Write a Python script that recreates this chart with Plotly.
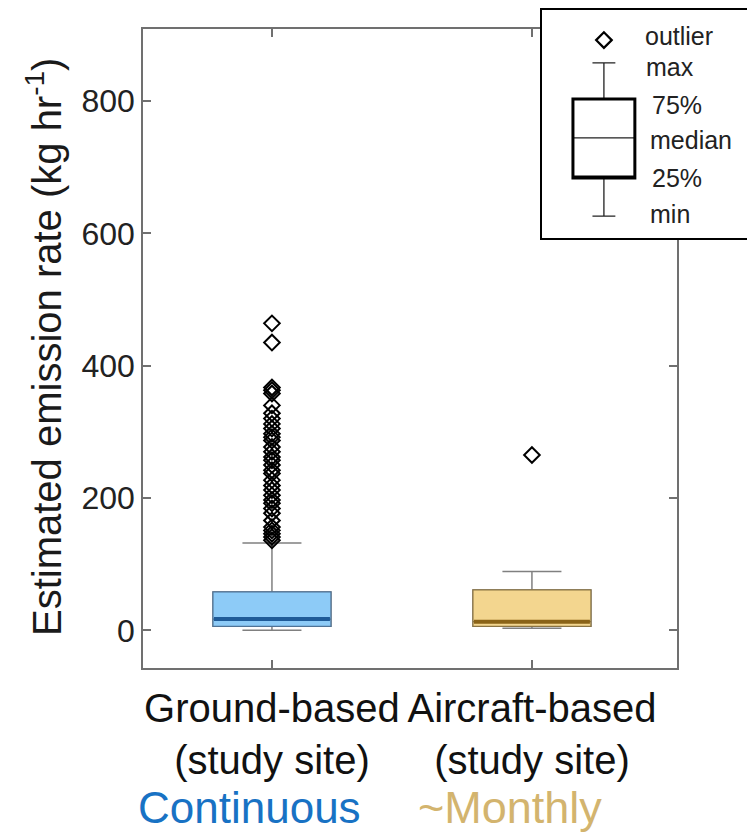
import plotly.graph_objects as go

# ---------------- data ----------------
categories = ["Ground-based<br>(study site)", "Aircraft-based<br>(study site)"]
positions = [1, 2]

q1_vals = [6, 6]
median_vals = [17, 13]
q3_vals = [58, 61]
lower_vals = [0, 3]
upper_vals = [132, 89]

ground_outliers = [464, 435, 367, 363, 358, 340, 328, 320, 312, 305, 297, 292, 287,
                   277, 270, 262, 257, 250, 242, 237, 227, 219, 212, 204, 197, 192,
                   184, 177, 166, 156, 151, 146, 141, 136]
aircraft_outliers = [265]

y_ticks = [0, 200, 400, 600, 800]

# schematic legend stats
legend_stats = dict(q1=0.263, median=0.439, q3=0.610, lower=0.096, upper=0.768, outlier=0.868)
legend_labels = ["outlier", "max", "75%", "median", "25%", "min"]

# ---------------- style ----------------
W, H = 747, 838
FONT = "Liberation Sans, Arial, Helvetica, sans-serif"
fills = ["#8dcbf7", "#f3d68f"]
edges = ["#4f7396", "#8a7443"]
median_cols = ["#1f5b98", "#8a6317"]
whisker_col = "#808080"
axis_col = "#707070"
box_w = 0.454

main_x_dom = [143 / W, 677 / W]
main_y_dom = [1 - 668 / H, 1 - 29 / H]
leg_x_dom = [542 / W, 1.0]
leg_y_dom = [1 - 238 / H, 1 - 10 / H]

fig = go.Figure()

outliers = [ground_outliers, aircraft_outliers]
for i in range(2):
    # whiskers + caps
    fig.add_trace(go.Box(
        x=[positions[i]], q1=[q1_vals[i]], median=[median_vals[i]], q3=[q3_vals[i]],
        lowerfence=[lower_vals[i]], upperfence=[upper_vals[i]],
        width=box_w, whiskerwidth=0.5, fillcolor=fills[i],
        line=dict(color=whisker_col, width=1.5), boxpoints=False,
        showlegend=False, hoverinfo="skip"))
    # box body
    fig.add_trace(go.Box(
        x=[positions[i]], q1=[q1_vals[i]], median=[median_vals[i]], q3=[q3_vals[i]],
        lowerfence=[q1_vals[i]], upperfence=[q3_vals[i]],
        width=box_w, whiskerwidth=1, fillcolor=fills[i],
        line=dict(color=edges[i], width=1.2), boxpoints=False,
        showlegend=False, hoverinfo="skip"))
    # thick median band
    fig.add_trace(go.Scatter(
        x=[positions[i] - box_w / 2 + 0.004, positions[i] + box_w / 2 - 0.004],
        y=[median_vals[i], median_vals[i]], mode="lines",
        line=dict(color=median_cols[i], width=4), showlegend=False, hoverinfo="skip"))
    # outliers
    fig.add_trace(go.Scatter(
        x=[positions[i]] * len(outliers[i]), y=outliers[i], mode="markers",
        marker=dict(symbol="diamond-open", size=12, color="black", line=dict(width=2)),
        showlegend=False, hoverinfo="skip"))

# ---------------- schematic legend (inset axes) ----------------
leg_x = 0.302
fig.add_trace(go.Box(
    x=[leg_x], q1=[legend_stats["q1"]], median=[legend_stats["median"]], q3=[legend_stats["q3"]],
    lowerfence=[legend_stats["lower"]], upperfence=[legend_stats["upper"]],
    width=0.302, whiskerwidth=0.37, fillcolor="white",
    line=dict(color="#222222", width=1.3), boxpoints=False,
    xaxis="x2", yaxis="y2", showlegend=False, hoverinfo="skip"))
fig.add_trace(go.Box(
    x=[leg_x], q1=[legend_stats["q1"]], median=[legend_stats["q1"]], q3=[legend_stats["q3"]],
    lowerfence=[legend_stats["q1"]], upperfence=[legend_stats["q3"]],
    width=0.302, whiskerwidth=1, fillcolor="rgba(0,0,0,0)",
    line=dict(color="black", width=3), boxpoints=False,
    xaxis="x2", yaxis="y2", showlegend=False, hoverinfo="skip"))
fig.add_trace(go.Scatter(
    x=[leg_x], y=[legend_stats["outlier"]], mode="markers",
    marker=dict(symbol="diamond-open", size=12, color="black", line=dict(width=2.2)),
    xaxis="x2", yaxis="y2", showlegend=False, hoverinfo="skip"))

label_pos = [(0.493, 0.884), (0.498, 0.752), (0.527, 0.583),
             (0.517, 0.430), (0.527, 0.263), (0.517, 0.105)]
for lab, (lx, ly) in zip(legend_labels, label_pos):
    fig.add_annotation(x=lx, y=ly, xref="x2", yref="y2", text=lab, showarrow=False,
                       xanchor="left", yanchor="middle",
                       font=dict(family=FONT, size=25, color="#222222"))

# ---------------- axes ----------------
fig.update_layout(
    width=W, height=H,
    margin=dict(l=0, r=0, t=0, b=0),
    paper_bgcolor="white", plot_bgcolor="white",
    font=dict(family=FONT, color="#1a1a1a"),
    xaxis=dict(domain=main_x_dom, range=[0.504, 2.558], tickmode="array",
               tickvals=positions, ticktext=categories,
               ticks="inside", ticklen=8, tickwidth=1.5, tickcolor=axis_col,
               showline=True, linecolor=axis_col, linewidth=1.5, mirror="ticks",
               showgrid=False, zeroline=False, automargin=False, ticklabelstandoff=4,
               tickfont=dict(family=FONT, size=40, color="#111111")),
    yaxis=dict(domain=main_y_dom, range=[-57, 909], tickmode="array",
               tickvals=y_ticks, ticktext=[str(v) for v in y_ticks],
               ticks="inside", ticklen=8, tickwidth=1.5, tickcolor=axis_col,
               showline=True, linecolor=axis_col, linewidth=1.5, mirror="ticks",
               showgrid=False, zeroline=False, automargin=False,
               tickfont=dict(family=FONT, size=32, color="#222222")),
    xaxis2=dict(domain=leg_x_dom, range=[0, 1], anchor="y2", showticklabels=False,
                ticks="", showgrid=False, zeroline=False, showline=True,
                linecolor="black", linewidth=2, mirror=True),
    yaxis2=dict(domain=leg_y_dom, range=[0, 1], anchor="x2", showticklabels=False,
                ticks="", showgrid=False, zeroline=False, showline=True,
                linecolor="black", linewidth=2, mirror=False),
)

# y axis title
fig.add_annotation(x=44 / W, y=1 - 347 / H, xref="paper", yref="paper",
                   text="Estimated emission rate (kg hr<sup>-1</sup>)", textangle=-90,
                   showarrow=False, xanchor="center", yanchor="middle",
                   font=dict(family=FONT, size=40, color="#1a1a1a"))

# bottom labels
fig.add_annotation(x=249 / W, y=1 - 807 / H, xref="paper", yref="paper",
                   text="Continuous", showarrow=False, xanchor="center", yanchor="middle",
                   font=dict(family=FONT, size=44, color="#1872c4"))
fig.add_annotation(x=510 / W, y=1 - 807 / H, xref="paper", yref="paper",
                   text="~Monthly", showarrow=False, xanchor="center", yanchor="middle",
                   font=dict(family=FONT, size=45, color="#d3b46e"))

fig.write_html("out.html")
